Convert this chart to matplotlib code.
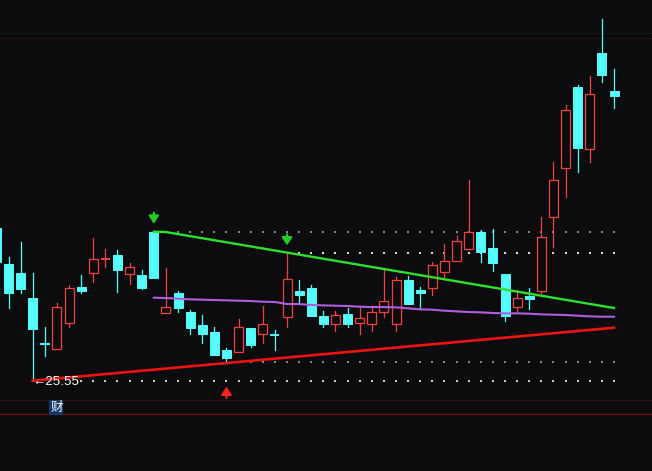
import matplotlib
matplotlib.use('Agg')
import matplotlib.pyplot as plt
from matplotlib.patches import Rectangle

# ---------------- data ----------------
first_index = -1
opens  = [30.13, 29.05, 28.79, 28.03, 26.69, 26.49, 27.27, 28.36, 28.77, 29.19,
          29.32, 28.74, 28.72, 30.01, 27.59, 28.17, 27.62, 27.21, 27.01, 26.47,
          26.42, 27.12, 26.94, 26.93, 27.47, 28.24, 28.34, 27.50, 27.24, 27.54,
          27.27, 27.24, 27.60, 27.24, 28.56, 28.27, 28.32, 28.82, 29.15, 29.51,
          30.01, 29.53, 28.75, 27.75, 28.10, 28.25, 30.47, 31.92, 34.35, 32.49,
          35.39, 34.25]
highs  = [30.19, 29.27, 29.70, 28.79, 27.17, 27.87, 28.42, 28.72, 29.84, 29.49,
          29.47, 29.07, 28.87, 30.02, 28.92, 28.24, 27.67, 27.52, 27.17, 26.54,
          27.40, 27.12, 27.79, 27.07, 29.37, 28.57, 28.42, 27.64, 27.64, 27.72,
          27.74, 27.72, 28.87, 28.67, 28.69, 28.37, 29.12, 29.65, 29.90, 31.57,
          30.07, 30.10, 28.75, 28.27, 28.34, 30.45, 32.11, 33.82, 34.42, 34.69,
          36.40, 34.89]
lows   = [28.99, 27.74, 28.19, 25.55, 26.30, 26.49, 27.17, 28.17, 28.52, 28.97,
          28.20, 28.45, 28.31, 28.64, 27.59, 27.62, 26.94, 26.69, 26.32, 26.12,
          26.42, 26.57, 26.69, 26.47, 27.17, 27.89, 27.49, 27.15, 27.04, 27.17,
          26.94, 27.04, 27.47, 27.04, 27.84, 27.74, 28.12, 28.65, 29.15, 29.51,
          29.12, 28.85, 27.35, 27.57, 27.71, 28.12, 29.57, 31.07, 31.82, 32.10,
          34.52, 33.74]
closes = [29.11, 28.19, 28.30, 27.09, 26.65, 27.75, 28.32, 28.25, 29.19, 29.20,
          28.88, 28.95, 28.34, 28.64, 27.75, 27.74, 27.14, 26.94, 26.32, 26.24,
          27.15, 26.62, 27.24, 26.91, 28.59, 28.12, 27.49, 27.26, 27.53, 27.24,
          27.44, 27.60, 27.94, 28.56, 27.84, 28.19, 29.01, 29.14, 29.74, 30.01,
          29.42, 29.09, 27.50, 28.02, 28.01, 29.85, 31.56, 33.67, 32.54, 34.14,
          34.73, 34.10]

# descending green trend line (index, value)
green_idx = [12, 13, 50]
green_val = [30.02, 30.01, 27.73]

# rising red support line (index, value)
red_idx = [2, 50]
red_val = [25.55, 27.14]

# purple average line, one value per candle from index 12 to 50
purple_start = 12
purple_val = [28.04, 28.03, 28.01, 27.99, 27.98, 27.97, 27.96, 27.95, 27.94, 27.92,
              27.91, 27.85, 27.85, 27.82, 27.81, 27.80, 27.79, 27.77, 27.76, 27.76,
              27.75, 27.72, 27.69, 27.68, 27.65, 27.63, 27.61, 27.60, 27.58, 27.57,
              27.57, 27.56, 27.54, 27.53, 27.52, 27.50, 27.48, 27.47, 27.47]

down_arrow_idx = [12, 23]
up_arrow_idx = [18]
low_label = '25.55'
low_label_idx = 2
fin_label = '财'

# ---------------- styling ----------------
BG = '#0c0c0e'
CYAN = '#54fcfc'
RED = '#f04040'
GREEN_LINE = '#2ee02e'
PURPLE = '#b05ee0'
RED_LINE = '#ee1414'

YTOP, YBOT = 36.971, 22.841
XL, XR = -0.702, 53.137
PX_PER_PRICE = 471 / (YTOP - YBOT)
PX_PER_IDX = 652 / (XR - XL)


def py(ypix):
    return YTOP - ypix / PX_PER_PRICE


fig = plt.figure(figsize=(6.52, 4.71), dpi=100)
fig.patch.set_facecolor(BG)
ax = fig.add_axes([0, 0, 1, 1])
ax.set_facecolor(BG)
ax.set_xlim(XL, XR)
ax.set_ylim(YBOT, YTOP)
ax.axis('off')

# faint frame lines
ax.axhline(py(33), color='#242424', lw=0.7, ls=(0, (1, 2)), zorder=1)
ax.axhline(py(38), color='#261212', lw=0.7, zorder=1)
ax.axhline(py(85), color='#151212', lw=0.7, zorder=1)
ax.axhline(py(400.5), color='#300e0e', lw=0.8, zorder=1)
ax.axhline(py(414.5), color='#701212', lw=0.9, zorder=1)

# dotted level rows
def dot_row(level, start, color):
    xs = list(range(start, 51))
    ax.scatter(xs, [level] * len(xs), s=1.6, color=color, marker='s',
               linewidths=0, zorder=2)

dot_row(highs[12 - first_index], 13, '#8c8c8c')
dot_row(highs[23 - first_index], 24, '#d8d8d8')
dot_row(lows[18 - first_index], 19, '#8c8c8c')
dot_row(lows[2 - first_index], 6, '#d0d0d0')

# candles
bw = 9 / PX_PER_IDX
onepx = 1 / PX_PER_PRICE
for k, (o, h, l, c) in enumerate(zip(opens, highs, lows, closes)):
    i = first_index + k
    up = c >= o
    col = RED if up else CYAN
    top, bot = max(o, c), min(o, c)
    if top - bot < onepx:
        mid = (top + bot) / 2
        ax.plot([i - bw / 2, i + bw / 2], [mid, mid], color=col, lw=1.4,
                solid_capstyle='butt', zorder=3)
        ax.plot([i, i], [l, h], color=col, lw=0.9, zorder=3)
        continue
    if h > top:
        ax.plot([i, i], [top, h], color=col, lw=0.9, zorder=3)
    if l < bot:
        ax.plot([i, i], [l, bot], color=col, lw=0.9, zorder=3)
    if up:
        ax.add_patch(Rectangle((i - bw / 2, bot), bw, top - bot, facecolor=BG,
                               edgecolor=col, lw=0.9, zorder=3))
    else:
        ax.add_patch(Rectangle((i - bw / 2, bot), bw, top - bot, facecolor=col,
                               edgecolor=col, lw=0.7, zorder=3))

# trend / average lines
ax.plot(red_idx, red_val, color=RED_LINE, lw=1.9, zorder=4)
ax.plot(range(purple_start, purple_start + len(purple_val)), purple_val,
        color=PURPLE, lw=1.5, zorder=4)
ax.plot(green_idx, green_val, color=GREEN_LINE, lw=1.7, zorder=5)

# signal arrows
astyle = '-|>,head_length=0.45,head_width=0.3'
for i in down_arrow_idx:
    hh = highs[i - first_index]
    tip = hh + 8 / PX_PER_PRICE
    ax.annotate('', xy=(i, tip), xytext=(i, tip + 11 / PX_PER_PRICE),
                arrowprops=dict(arrowstyle=astyle, color='#22cc22', lw=1.6,
                                mutation_scale=10, shrinkA=0, shrinkB=0), zorder=6)
for i in up_arrow_idx:
    tip = py(386.7)
    ax.annotate('', xy=(i, tip), xytext=(i, tip - 11 / PX_PER_PRICE),
                arrowprops=dict(arrowstyle=astyle, color='#ff2020', lw=1.6,
                                mutation_scale=10, shrinkA=0, shrinkB=0), zorder=6)

# low label
ax.text(low_label_idx - 0.03, lows[low_label_idx - first_index], '←' + low_label,
        color='white', fontsize=9.6, ha='left', va='center_baseline',
        family=['Liberation Sans', 'DejaVu Sans'], zorder=7)

# 财 badge
ax.text((56.3 - 8.5) / PX_PER_IDX, py(407.5), fin_label, color='white', fontsize=9,
        ha='center', va='center', family=['Noto Sans CJK SC', 'DejaVu Sans'],
        bbox=dict(boxstyle='square,pad=0.06', facecolor='#143a6c', edgecolor='none'),
        zorder=7)

fig.savefig('out.png', dpi=100, facecolor=BG)
